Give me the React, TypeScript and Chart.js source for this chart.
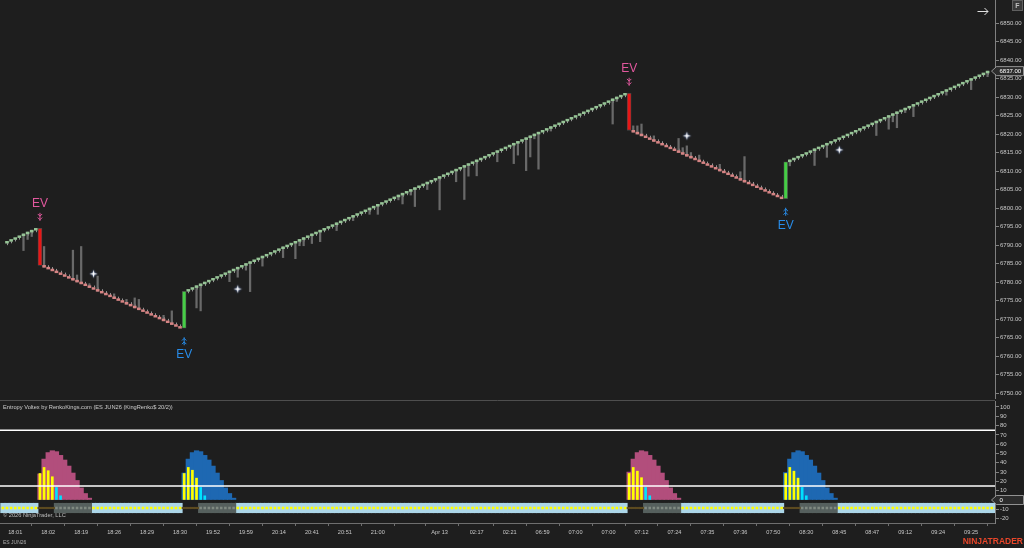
import React, { useEffect, useRef } from 'react';
import { Chart, registerables } from 'chart.js';

Chart.register(...registerables);

// ---------------- data: price panel (Renko bricks) ----------------
const FIRST_OPEN = 6790.5;
const brickClose: number[] = [
  6791, 6791.5, 6792, 6792.5, 6793, 6793.5, 6794, 6794.5,
  6784.5,
  6784, 6783.5, 6783, 6782.5, 6782, 6781.5, 6781, 6780.5, 6780, 6779.5,
  6779, 6778.5, 6778, 6777.5, 6777, 6776.5, 6776, 6775.5, 6775, 6774.5,
  6774, 6773.5, 6773, 6772.5, 6772, 6771.5, 6771, 6770.5, 6770, 6769.5,
  6769, 6768.5, 6768, 6767.5,
  6777.5,
  6778, 6778.5, 6779, 6779.5, 6780, 6780.5, 6781, 6781.5, 6782, 6782.5,
  6783, 6783.5, 6784, 6784.5, 6785, 6785.5, 6786, 6786.5, 6787, 6787.5,
  6788, 6788.5, 6789, 6789.5, 6790, 6790.5, 6791, 6791.5, 6792, 6792.5,
  6793, 6793.5, 6794, 6794.5, 6795, 6795.5, 6796, 6796.5, 6797, 6797.5,
  6798, 6798.5, 6799, 6799.5, 6800, 6800.5, 6801, 6801.5, 6802, 6802.5,
  6803, 6803.5, 6804, 6804.5, 6805, 6805.5, 6806, 6806.5, 6807, 6807.5,
  6808, 6808.5, 6809, 6809.5, 6810, 6810.5, 6811, 6811.5, 6812, 6812.5,
  6813, 6813.5, 6814, 6814.5, 6815, 6815.5, 6816, 6816.5, 6817, 6817.5,
  6818, 6818.5, 6819, 6819.5, 6820, 6820.5, 6821, 6821.5, 6822, 6822.5,
  6823, 6823.5, 6824, 6824.5, 6825, 6825.5, 6826, 6826.5, 6827, 6827.5,
  6828, 6828.5, 6829, 6829.5, 6830, 6830.5, 6831,
  6821,
  6820.5, 6820, 6819.5, 6819, 6818.5, 6818, 6817.5, 6817, 6816.5, 6816,
  6815.5, 6815, 6814.5, 6814, 6813.5, 6813, 6812.5, 6812, 6811.5, 6811,
  6810.5, 6810, 6809.5, 6809, 6808.5, 6808, 6807.5, 6807, 6806.5, 6806,
  6805.5, 6805, 6804.5, 6804, 6803.5, 6803, 6802.5,
  6812.5,
  6813, 6813.5, 6814, 6814.5, 6815, 6815.5, 6816, 6816.5, 6817, 6817.5,
  6818, 6818.5, 6819, 6819.5, 6820, 6820.5, 6821, 6821.5, 6822, 6822.5,
  6823, 6823.5, 6824, 6824.5, 6825, 6825.5, 6826, 6826.5, 6827, 6827.5,
  6828, 6828.5, 6829, 6829.5, 6830, 6830.5, 6831, 6831.5, 6832, 6832.5,
  6833, 6833.5, 6834, 6834.5, 6835, 6835.5, 6836, 6836.5, 6837,
];

// reversal ("EV") bricks
const evBars = [8, 43, 151, 189];

// wick extremes (bar index -> price)
const wickBars = [
  4, 5, 6,
  9, 16, 17, 18, 20, 22, 26, 29, 31, 32, 38, 40,
  46, 47, 54, 56, 58, 59, 62, 67, 70, 71, 72, 74, 76, 80, 84, 88, 90, 95, 96, 98, 99,
  102, 105, 109, 111, 112, 114, 119, 123, 124, 126, 127, 128, 129, 132, 147, 148,
  152, 153, 154, 157, 163, 164, 165, 166, 168, 173, 178, 179,
  190, 196, 199, 211, 214, 215, 216, 218, 220, 228, 234, 238,
];
const wickEnds = [
  6788.5, 6791.5, 6792.3,
  6789.6, 6788.6, 6781.9, 6789.6, 6779.5, 6781.6, 6776.8, 6775.3, 6775.7, 6775.3, 6771, 6772.2,
  6773, 6772.2, 6780.1, 6781.3, 6783.2, 6777.4, 6784.3, 6786.6, 6786.3, 6789.8, 6789.8, 6790.4, 6790.9, 6793.9, 6796.6, 6798.3, 6798.3, 6802.2, 6801.1, 6803.5, 6800.4,
  6805, 6799.5, 6807.1, 6802.3, 6808.6, 6808.7, 6812.5, 6812, 6814.3, 6810.1, 6813.8, 6818.7, 6810.5, 6820.8, 6822.7, 6828.8,
  6822.2, 6822.2, 6822.7, 6819.5, 6818.8, 6816.3, 6816.8, 6815, 6814.3, 6811.8, 6809.8, 6813.9,
  6811.4, 6811.5, 6813.7, 6819.6, 6821.3, 6823.3, 6821.7, 6825.8, 6824.7, 6830.5, 6832, 6835.5,
];

// white star markers
const starBars = [21, 56, 165, 202];
const starPrices = [6782.2, 6778.1, 6819.5, 6815.7];

// ---------------- data: indicator panel ----------------
const waveStarts = [8, 43, 151, 189];
const pinkWave1 = [28, 44, 51, 53, 52, 48, 43, 36.5, 29, 21, 13, 7, 2];
const blueWave1 = [29, 44, 51, 53, 52, 48, 43, 36.5, 29, 21, 13, 7, 2];
const pinkWave2 = [30, 44, 51, 53, 52, 48, 43, 36.5, 29, 21, 13, 7, 2];
const blueWave2 = [29.5, 44, 51, 53, 52, 48, 43, 36.5, 29, 21, 13, 7, 2];
const yellowBars1 = [28.5, 35, 31.5, 25];
const yellowBars2 = [28.5, 35, 32, 23.5];
const yellowBars3 = [28.5, 35, 31, 24];
const yellowBars4 = [28.5, 35, 31, 23.5];
const cyanBars1 = [13.5, 4.5];
const cyanBars2 = [13.5, 4.5];
const cyanBars3 = [13.5, 4.5];
const cyanBars4 = [13.5, 4.5];
const levelLines = [75, 15];
const indicatorLast = 0;

// state band along the bottom of the indicator
const bandSegStart = [-1, 8, 12, 21, 43, 47, 56, 151, 155, 164, 189, 193, 202];
const bandSegState = ['on', 'link', 'off', 'on', 'link', 'off', 'on', 'link', 'off', 'on', 'link', 'off', 'on'];
const BAND_END = 240;
const BAND_LO = -13.7;
const BAND_HI = -3.5;
const BAND_MID = -8.6;
const LINK_LO = -9.4;
const LINK_HI = -7.8;

// time axis
const timeTickBars = [2, 10, 18, 26, 34, 42, 50, 58, 66, 74, 82, 90, 98, 105, 114, 122, 130, 138, 146, 154, 162, 170, 178, 186, 194, 202, 210, 218, 226, 234];
const timeTickLabels = ['18:01', '18:02', '18:19', '18:26', '18:29', '18:30', '19:52', '19:59', '20:14', '20:41', '20:51', '21:00', '', 'Apr 13', '02:17', '02:21', '06:59', '07:00', '07:00', '07:12', '07:24', '07:35', '07:36', '07:50', '08:30', '08:45', '08:47', '09:12', '09:24', '09:25'];

// axes ranges
const X_MIN = -1.7;
const X_MAX = 239.8;
const PRICE_MIN = 6748.65;
const PRICE_MAX = 6856.22;
const PRICE_STEP = 5;
const PRICE_LABEL_MAX = 6850;
const IND_MIN = -24.73;
const IND_MAX = 106.45;
const IND_STEP = 10;

// ---------------- styles ----------------
const FONT = '"Liberation Sans", Arial, sans-serif';
const BG = '#1e1e1e';
const UP = 'rgb(150,196,150)';
const DOWN = 'rgb(214,132,132)';
const EV_UP = 'rgb(70,205,70)';
const EV_DOWN = 'rgb(232,22,22)';
const WICK = 'rgb(105,105,105)';
const STUB = 'rgb(150,150,150)';
const EV_PINK = 'rgb(226,88,158)';
const EV_BLUE = 'rgb(40,140,232)';
const AXIS = 'rgb(128,128,128)';
const LABEL = 'rgb(200,200,200)';

function noPad(s: any) {
  s.paddingTop = 0;
  s.paddingBottom = 0;
  s.paddingLeft = 0;
  s.paddingRight = 0;
}

function drawGlyph(ctx: CanvasRenderingContext2D, x: number, y: number, dir: number, color: string) {
  ctx.save();
  ctx.strokeStyle = color;
  ctx.lineWidth = 1;
  ctx.beginPath();
  ctx.moveTo(x, y - 4);
  ctx.lineTo(x, y + 4);
  ctx.stroke();
  for (const off of [-1.8, 1.8]) {
    ctx.beginPath();
    ctx.moveTo(x - 2.2, y + off - dir * 1.1);
    ctx.lineTo(x, y + off + dir * 1.1);
    ctx.lineTo(x + 2.2, y + off - dir * 1.1);
    ctx.stroke();
  }
  ctx.restore();
}

function drawMarker(ctx: CanvasRenderingContext2D, y: number, text: string) {
  ctx.save();
  ctx.beginPath();
  ctx.moveTo(991.5, y);
  ctx.lineTo(996.5, y - 4.5);
  ctx.lineTo(1023.5, y - 4.5);
  ctx.lineTo(1023.5, y + 4.5);
  ctx.lineTo(996.5, y + 4.5);
  ctx.closePath();
  ctx.fillStyle = 'rgb(44,44,44)';
  ctx.fill();
  ctx.strokeStyle = 'rgb(175,175,175)';
  ctx.lineWidth = 0.8;
  ctx.stroke();
  ctx.fillStyle = '#ffffff';
  ctx.font = `6px ${FONT}`;
  ctx.textAlign = 'left';
  ctx.textBaseline = 'middle';
  ctx.fillText(text, 999.5, y + 0.5);
  ctx.restore();
}

function makeStar(): HTMLCanvasElement {
  const s = document.createElement('canvas');
  s.width = 11;
  s.height = 11;
  const g = s.getContext('2d')!;
  g.translate(5.5, 5.5);
  g.shadowColor = 'rgba(130,170,255,0.9)';
  g.shadowBlur = 2;
  g.fillStyle = '#ffffff';
  g.beginPath();
  for (let k = 0; k < 8; k++) {
    const a = (k * Math.PI) / 4 - Math.PI / 2;
    const rad = k % 2 === 0 ? 4 : 1.2;
    g.lineTo(Math.cos(a) * rad, Math.sin(a) * rad);
  }
  g.closePath();
  g.fill();
  return s;
}

export default function App() {
  const priceRef = useRef<HTMLCanvasElement>(null);
  const indRef = useRef<HTMLCanvasElement>(null);

  useEffect(() => {
    document.body.style.margin = '0';
    document.body.style.background = BG;

    const opens = brickClose.map((c, i) => (i === 0 ? FIRST_OPEN : brickClose[i - 1]));
    const evSet = new Set(evBars);
    const bodyData = brickClose
      .map((c, i) => ({ x: i, y: [opens[i], c] }))
      .filter((d) => !evSet.has(d.x));
    const evData = evBars.map((i) => ({ x: i, y: [opens[i], brickClose[i]] }));
    const wickData = wickBars.map((b, k) => {
      const lo = Math.min(opens[b], brickClose[b], wickEnds[k]);
      const hi = Math.max(opens[b], brickClose[b], wickEnds[k]);
      return { x: b, y: [lo, hi] };
    });
    const starData = starBars.map((b, k) => ({ x: b, y: starPrices[k] }));
    const star = makeStar();

    const priceDecor = {
      id: 'priceDecor',
      beforeDatasetsDraw(chart: any) {
        // small open-side cap under each ordinary brick
        const { ctx } = chart;
        const xs = chart.scales.x;
        const ys = chart.scales.y;
        ctx.save();
        ctx.strokeStyle = STUB;
        ctx.lineWidth = 1;
        brickClose.forEach((c, i) => {
          if (evSet.has(i)) return;
          const px = Math.round(xs.getPixelForValue(i)) + 0.5;
          const py = ys.getPixelForValue(opens[i]);
          const dir = c > opens[i] ? 1 : -1;
          ctx.beginPath();
          ctx.moveTo(px, py);
          ctx.lineTo(px, py + dir * 2);
          ctx.stroke();
        });
        ctx.restore();
      },
      afterDatasetsDraw(chart: any) {
        const { ctx } = chart;
        const xs = chart.scales.x;
        const ys = chart.scales.y;
        evBars.forEach((b) => {
          const o = opens[b];
          const c = brickClose[b];
          const px = xs.getPixelForValue(b);
          const sell = c < o;
          const color = sell ? EV_PINK : EV_BLUE;
          ctx.save();
          ctx.fillStyle = color;
          ctx.font = `12px ${FONT}`;
          ctx.textAlign = 'center';
          ctx.textBaseline = 'middle';
          if (sell) {
            const top = ys.getPixelForValue(Math.max(o, c));
            drawGlyph(ctx, px, top - 11.5, 1, color);
            ctx.fillText('EV', px, top - 25);
          } else {
            const bot = ys.getPixelForValue(Math.min(o, c));
            drawGlyph(ctx, px, bot + 13, -1, color);
            ctx.fillText('EV', px, bot + 26.5);
          }
          ctx.restore();
        });
      },
      afterDraw(chart: any) {
        const { ctx } = chart;
        const ys = chart.scales.y;
        const last = brickClose[brickClose.length - 1];
        drawMarker(ctx, ys.getPixelForValue(last), last.toFixed(2));
        ctx.save();
        ctx.fillStyle = 'rgb(58,58,58)';
        ctx.strokeStyle = 'rgb(95,95,95)';
        ctx.lineWidth = 1;
        ctx.fillRect(1012.5, 0.5, 10, 10);
        ctx.strokeRect(1012.5, 0.5, 10, 10);
        ctx.fillStyle = 'rgb(190,190,190)';
        ctx.font = `bold 7px ${FONT}`;
        ctx.textAlign = 'center';
        ctx.textBaseline = 'middle';
        ctx.fillText('F', 1017.5, 6);
        ctx.strokeStyle = 'rgb(225,225,225)';
        ctx.lineWidth = 1;
        ctx.beginPath();
        ctx.moveTo(977.5, 11.5);
        ctx.lineTo(988, 11.5);
        ctx.moveTo(984.5, 8);
        ctx.lineTo(988, 11.5);
        ctx.lineTo(984.5, 15);
        ctx.stroke();
        ctx.restore();
      },
    };

    const c1 = new Chart(priceRef.current!, {
      type: 'bar',
      data: {
        datasets: [
          { type: 'bar', data: wickData as any, backgroundColor: WICK, barThickness: 1.6, grouped: false, order: 4 },
          {
            type: 'bar',
            data: bodyData as any,
            backgroundColor: (ctx: any) => {
              const r = ctx.raw;
              return r && r.y[1] > r.y[0] ? UP : DOWN;
            },
            barThickness: 3,
            grouped: false,
            order: 3,
          },
          {
            type: 'bar',
            data: evData as any,
            backgroundColor: (ctx: any) => {
              const r = ctx.raw;
              return r && r.y[1] > r.y[0] ? EV_UP : EV_DOWN;
            },
            borderColor: 'rgb(70,70,70)',
            borderWidth: 0.8,
            borderSkipped: false,
            barThickness: 4,
            grouped: false,
            order: 2,
          },
          { type: 'scatter', data: starData as any, pointStyle: star as any, pointRadius: 5, order: 1 },
        ] as any,
      },
      options: {
        responsive: false,
        animation: false,
        events: [],
        layout: { autoPadding: false, padding: { left: 0, right: 0, top: 0, bottom: 2 } },
        plugins: { legend: { display: false }, tooltip: { enabled: false } },
        scales: {
          x: { type: 'linear', min: X_MIN, max: X_MAX, display: false, offset: false },
          y: {
            type: 'linear',
            position: 'right',
            min: PRICE_MIN,
            max: PRICE_MAX,
            afterFit: (s: any) => {
              s.width = 29;
              noPad(s);
            },
            grid: { display: true, drawOnChartArea: false, drawTicks: true, tickLength: 4, color: AXIS },
            border: { display: true, color: AXIS },
            ticks: {
              stepSize: PRICE_STEP,
              includeBounds: false,
              autoSkip: false,
              padding: 1,
              color: LABEL,
              font: { family: FONT, size: 6 },
              callback: (v: any) => (Number(v) > PRICE_LABEL_MAX ? null : Number(v).toFixed(2)),
            },
          },
        },
      } as any,
      plugins: [priceDecor],
    });

    // ---------- indicator ----------
    const waves = [pinkWave1, blueWave1, pinkWave2, blueWave2];
    const yellows = [yellowBars1, yellowBars2, yellowBars3, yellowBars4];
    const cyans = [cyanBars1, cyanBars2, cyanBars3, cyanBars4];
    const pinkData: any[] = [];
    const blueData: any[] = [];
    const yellowData: any[] = [];
    const cyanData: any[] = [];
    waveStarts.forEach((s, k) => {
      const target = k % 2 === 0 ? pinkData : blueData;
      waves[k].forEach((v, j) => target.push({ x: s + j, y: v }));
      yellows[k].forEach((v, j) => yellowData.push({ x: s + j, y: v }));
      cyans[k].forEach((v, j) => cyanData.push({ x: s + yellows[k].length + j, y: v }));
    });

    const bandOn: any[] = [];
    const bandOff: any[] = [];
    const bandLink: any[] = [];
    const dotOn: any[] = [];
    const dotOff: any[] = [];
    bandSegStart.forEach((s, k) => {
      const e = k + 1 < bandSegStart.length ? bandSegStart[k + 1] - 1 : BAND_END;
      for (let i = s; i <= e; i++) {
        const st = bandSegState[k];
        if (st === 'on') {
          bandOn.push({ x: i, y: [BAND_LO, BAND_HI] });
          dotOn.push({ x: i, y: BAND_MID });
        } else if (st === 'off') {
          bandOff.push({ x: i, y: [BAND_LO, BAND_HI] });
          dotOff.push({ x: i, y: BAND_MID });
        } else {
          bandLink.push({ x: i, y: [LINK_LO, LINK_HI] });
        }
      }
    });

    const indDecor = {
      id: 'indDecor',
      afterDatasetsDraw(chart: any) {
        const { ctx, chartArea } = chart;
        const ys = chart.scales.y;
        ctx.save();
        ctx.strokeStyle = '#ffffff';
        ctx.lineWidth = 1.4;
        levelLines.forEach((v) => {
          const py = ys.getPixelForValue(v);
          ctx.beginPath();
          ctx.moveTo(chartArea.left, py);
          ctx.lineTo(chartArea.right, py);
          ctx.stroke();
        });
        ctx.restore();
      },
      afterDraw(chart: any) {
        const { ctx, chartArea } = chart;
        const ys = chart.scales.y;
        ctx.save();
        ctx.strokeStyle = 'rgb(78,78,78)';
        ctx.lineWidth = 1;
        ctx.beginPath();
        ctx.moveTo(0, 0.5);
        ctx.lineTo(chartArea.right, 0.5);
        ctx.stroke();
        ctx.textAlign = 'left';
        ctx.textBaseline = 'middle';
        ctx.fillStyle = 'rgb(205,205,205)';
        ctx.font = `5.7px ${FONT}`;
        ctx.fillText('Entropy Voltex by RenkoKings.com (ES JUN26 (KingRenko$ 20/2))', 3, 7.5);
        ctx.fillStyle = 'rgb(190,190,190)';
        ctx.fillText('\u00a9 2026 NinjaTrader, LLC', 3, 115.5);
        ctx.font = `5px ${FONT}`;
        ctx.fillStyle = 'rgb(175,175,175)';
        ctx.fillText('ES JUN26', 3, 143);
        ctx.textAlign = 'right';
        ctx.font = `bold 8.5px ${FONT}`;
        ctx.fillStyle = 'rgb(232,70,42)';
        ctx.fillText('NINJATRADER', 1023, 141.5);
        ctx.restore();
        drawMarker(ctx, ys.getPixelForValue(indicatorLast), String(indicatorLast));
      },
    };

    const c2 = new Chart(indRef.current!, {
      type: 'bar',
      data: {
        datasets: [
          { type: 'bar', data: bandOn, backgroundColor: 'rgb(172,214,232)', barThickness: 4.5, grouped: false, order: 12 },
          { type: 'bar', data: bandOff, backgroundColor: 'rgb(86,96,94)', barThickness: 4.5, grouped: false, order: 11 },
          { type: 'bar', data: bandLink, backgroundColor: 'rgb(92,74,32)', barThickness: 4.5, grouped: false, order: 10 },
          { type: 'scatter', data: dotOn, pointStyle: 'rect', pointRadius: 1.8, pointBorderWidth: 0, backgroundColor: 'rgb(255,255,0)', order: 9 },
          { type: 'scatter', data: dotOff, pointStyle: 'rect', pointRadius: 1.8, pointBorderWidth: 0, backgroundColor: 'rgb(128,138,130)', order: 8 },
          { type: 'bar', data: pinkData, backgroundColor: 'rgb(178,78,124)', barThickness: 4.6, grouped: false, order: 7 },
          { type: 'bar', data: blueData, backgroundColor: 'rgb(30,104,178)', barThickness: 4.6, grouped: false, order: 6 },
          { type: 'bar', data: yellowData, backgroundColor: 'rgb(255,255,0)', barThickness: 2, grouped: false, order: 5 },
          { type: 'bar', data: cyanData, backgroundColor: 'rgb(0,225,255)', barThickness: 2, grouped: false, order: 4 },
        ] as any,
      },
      options: {
        responsive: false,
        animation: false,
        events: [],
        layout: { autoPadding: false, padding: { left: 0, right: 0, top: 1, bottom: 0 } },
        plugins: { legend: { display: false }, tooltip: { enabled: false } },
        scales: {
          x: {
            type: 'linear',
            min: X_MIN,
            max: X_MAX,
            offset: false,
            position: 'bottom',
            afterFit: (s: any) => {
              s.height = 25;
              noPad(s);
            },
            afterBuildTicks: (s: any) => {
              s.ticks = timeTickBars.map((v) => ({ value: v }));
            },
            grid: { display: true, drawOnChartArea: false, drawTicks: true, tickLength: 3, color: 'rgb(110,110,110)' },
            border: { display: true, color: 'rgb(110,110,110)' },
            ticks: {
              autoSkip: false,
              maxRotation: 0,
              minRotation: 0,
              padding: 3.5,
              color: LABEL,
              font: { family: FONT, size: 5.6 },
              callback: (_v: any, idx: number) => timeTickLabels[idx] ?? '',
            },
          },
          y: {
            type: 'linear',
            position: 'right',
            min: IND_MIN,
            max: IND_MAX,
            afterFit: (s: any) => {
              s.width = 29;
              noPad(s);
            },
            grid: { display: true, drawOnChartArea: false, drawTicks: true, tickLength: 4, color: AXIS },
            border: { display: true, color: AXIS },
            ticks: {
              stepSize: IND_STEP,
              includeBounds: false,
              autoSkip: false,
              padding: 1,
              color: LABEL,
              font: { family: FONT, size: 6 },
              callback: (v: any) => (Number(v) === 0 ? '' : String(v)),
            },
          },
        },
      } as any,
      plugins: [indDecor],
    });

    return () => {
      c1.destroy();
      c2.destroy();
    };
  }, []);

  return (
    <div style={{ position: 'fixed', left: 0, top: 0, width: 1024, height: 548, background: BG, overflow: 'hidden' }}>
      <canvas ref={priceRef} width={1024} height={400} style={{ position: 'absolute', left: 0, top: 0 }} />
      <canvas ref={indRef} width={1024} height={148} style={{ position: 'absolute', left: 0, top: 400 }} />
    </div>
  );
}
